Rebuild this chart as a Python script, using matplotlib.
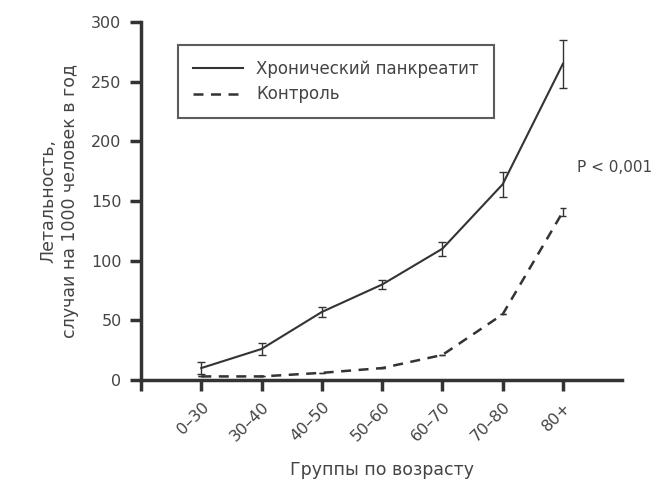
import numpy as np
import matplotlib.pyplot as plt
from matplotlib.lines import Line2D

# age groups and mortality per 1000 person-years
groups = ["0–30", "30–40", "40–50", "50–60", "60–70", "70–80", "80+"]
chronic = [10, 26, 57, 80, 110, 164, 265]
chronic_err = [5, 5, 4, 4, 6, 10.5, 20]
control = [3, 3, 6, 10, 21, 55, 141]
control_err = [0, 0, 0, 0, 0, 0, 3.5]

ink = "#333333"
txt = "#444444"

fig = plt.figure(figsize=(6.61, 4.95), dpi=100)
ax = fig.add_axes([141 / 661, 1 - 380 / 495, 481 / 661, 358 / 495])

x = np.arange(1, len(groups) + 1)
ax.errorbar(x, chronic, yerr=chronic_err, color=ink, lw=1.5, capsize=3,
            elinewidth=1.0, capthick=1.0)
ax.errorbar(x, control, yerr=control_err, color=ink, lw=1.8, ls=(0, (4, 3)),
            capsize=2.5, elinewidth=1.0, capthick=1.0)

ax.set_xlim(0, 7.98)
ax.set_ylim(0, 300)
ax.set_xticks(np.concatenate([[0], x]))
ax.set_xticklabels([""] + groups, rotation=45, ha="right", rotation_mode="anchor")
ax.set_yticks(range(0, 301, 50))

for s in ["top", "right"]:
    ax.spines[s].set_visible(False)
for s in ["left", "bottom"]:
    ax.spines[s].set_linewidth(2.5)
    ax.spines[s].set_color(ink)
ax.tick_params(axis="both", width=2.5, length=8, color=ink, labelcolor=txt,
               labelsize=11.5, pad=6)
ax.tick_params(axis="x", pad=6)

ax.set_xlabel("Группы по возрасту", fontsize=12.5, color=txt, labelpad=12)
ax.set_ylabel("Летальность,\nслучаи на 1000 человек в год", fontsize=12.5,
              color=txt, labelpad=9, linespacing=1.25)

ax.text(7.23, 178, "P < 0,001", fontsize=11, color=txt, ha="left", va="center")

handles = [Line2D([], [], color=ink, lw=1.5),
           Line2D([], [], color=ink, lw=1.8, ls=(0, (4, 3)))]
leg = ax.legend(handles, ["Хронический панкреатит", "Контроль"],
                loc="upper left", bbox_to_anchor=(0.077, 0.936), fontsize=12,
                fancybox=False, frameon=True, handlelength=3.0,
                borderpad=0.9, labelspacing=0.45, borderaxespad=0,
                handletextpad=0.8)
leg.get_frame().set_edgecolor(ink)
leg.get_frame().set_linewidth(1.5)
for t in leg.get_texts():
    t.set_color(txt)

fig.savefig("out.png", dpi=100)
